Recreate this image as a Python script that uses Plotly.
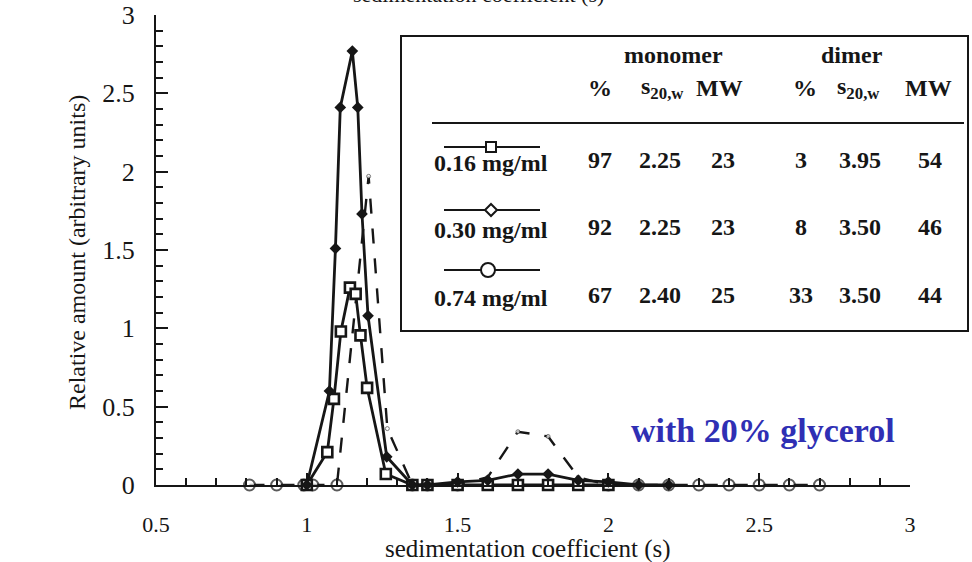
import plotly.graph_objects as go

# ---- sedimentation profiles (relative amount vs. s) ----
x_016 = [1.0, 1.068, 1.09, 1.113, 1.143, 1.162, 1.178, 1.2, 1.262, 1.35, 1.4, 1.5, 1.6, 1.7, 1.8, 1.9, 2.0]
y_016 = [0.0, 0.21, 0.55, 0.98, 1.26, 1.22, 0.955, 0.62, 0.07, 0.0, 0.0, 0.0, 0.0, 0.0, 0.0, 0.0, 0.0]

x_030 = [1.0, 1.075, 1.095, 1.111, 1.151, 1.169, 1.183, 1.203, 1.265, 1.35, 1.4, 1.5, 1.6, 1.7, 1.8, 1.9, 2.0, 2.1, 2.2]
y_030 = [0.0, 0.6, 1.51, 2.41, 2.77, 2.41, 1.73, 1.08, 0.18, 0.0, 0.0, 0.02, 0.03, 0.07, 0.07, 0.03, 0.02, 0.0, 0.0]

x_074 = [0.81, 0.9, 0.99, 1.02, 1.1, 1.205, 1.267, 1.35, 1.4, 1.5, 1.6, 1.7, 1.8, 1.9, 2.0, 2.1, 2.2, 2.3, 2.4, 2.5, 2.6, 2.7]
y_074 = [0.0, 0.0, 0.0, 0.0, 0.0, 1.97, 0.36, 0.0, 0.0, 0.0, 0.05, 0.34, 0.31, 0.05, 0.0, 0.0, 0.0, 0.0, 0.0, 0.0, 0.0, 0.0]

# ---- table of fitted species ----
conc_labels = ["0.16 mg/ml", "0.30 mg/ml", "0.74 mg/ml"]
mono_pct = ["97", "92", "67"]
mono_s = ["2.25", "2.25", "2.40"]
mono_mw = ["23", "23", "25"]
dimer_pct = ["3", "8", "33"]
dimer_s = ["3.95", "3.50", "3.50"]
dimer_mw = ["54", "46", "44"]

x_ticks = [0.5, 1, 1.5, 2, 2.5, 3]
x_tick_text = ["0.5", "1", "1.5", "2", "2.5", "3"]
y_ticks = [0, 0.5, 1, 1.5, 2, 2.5, 3]
y_tick_text = ["0", "0.5", "1", "1.5", "2", "2.5", "3"]

W, H = 972, 562
ML, MR, MT, MB = 156, 62, 15, 77
PW, PH = W - ML - MR, H - MT - MB


def px(x):
    return (x - ML) / PW


def py(y):
    return (H - MB - y) / PH


SERIF = "Liberation Serif"
INK = "#161616"

fig = go.Figure()

fig.add_trace(go.Scatter(
    x=x_074, y=y_074, mode="lines+markers", name="0.74 mg/ml",
    line=dict(color=INK, width=2.4, dash="longdash"),
    marker=dict(symbol="circle", color="white",
                size=[11 if v == 0 else 4 for v in y_074],
                line=dict(width=[2 if v == 0 else 0.8 for v in y_074], color=INK)),
    cliponaxis=False,
))
fig.add_trace(go.Scatter(
    x=x_016, y=y_016, mode="lines+markers", name="0.16 mg/ml",
    line=dict(color=INK, width=2.8),
    marker=dict(symbol="square", size=10, color="white", line=dict(width=2.6, color=INK)),
    cliponaxis=False,
))
fig.add_trace(go.Scatter(
    x=x_030, y=y_030, mode="lines+markers", name="0.30 mg/ml",
    line=dict(color=INK, width=2.8),
    marker=dict(symbol="diamond", size=9, color=INK),
    cliponaxis=False,
))

shapes = []
ann = []

# legend / table frame
shapes.append(dict(type="rect", xref="paper", yref="paper",
                   x0=px(401), x1=px(968), y0=py(331), y1=py(36),
                   line=dict(color=INK, width=2), fillcolor="white", layer="below"))
shapes.append(dict(type="line", xref="paper", yref="paper",
                   x0=px(432), x1=px(964), y0=py(123), y1=py(123),
                   line=dict(color=INK, width=1.8)))


def text(x, y, s, size=24, bold=True, color=INK, angle=0):
    ann.append(dict(x=px(x), y=py(y), xref="paper", yref="paper",
                    text=f"<b>{s}</b>" if bold else s,
                    showarrow=False, font=dict(family=SERIF, size=size, color=color),
                    xanchor="center", yanchor="middle", textangle=angle))


text(673, 55, "monomer")
text(852, 55, "dimer")
head_x = [600, 662, 719, 805, 858, 928]
for cx, head in zip(head_x, ["%", "s<sub>20,w</sub>", "MW", "%", "s<sub>20,w</sub>", "MW"]):
    text(cx, 88, head)

col_x = [600, 660, 723, 801, 860, 930]
row_y = [160, 227, 295]
sample_y = [147, 210, 270]
symbols = ["square", "diamond", "circle"]
for i, lab in enumerate(conc_labels):
    text(491, row_y[i] + 3, lab)
    for cx, val in zip(col_x, [mono_pct[i], mono_s[i], mono_mw[i], dimer_pct[i], dimer_s[i], dimer_mw[i]]):
        text(cx, row_y[i], val)
    sy = py(sample_y[i])
    shapes.append(dict(type="line", xref="paper", yref="paper",
                       x0=px(444), x1=px(540), y0=sy, y1=sy, line=dict(color=INK, width=1.8)))
    mx = px(491)
    if symbols[i] == "square":
        shapes.append(dict(type="rect", xref="paper", yref="paper", xsizemode="pixel", ysizemode="pixel",
                           xanchor=mx, yanchor=sy, x0=-5, x1=5, y0=-5, y1=5,
                           line=dict(color=INK, width=2), fillcolor="white"))
    elif symbols[i] == "diamond":
        shapes.append(dict(type="path", xref="paper", yref="paper", xsizemode="pixel", ysizemode="pixel",
                           xanchor=mx, yanchor=sy, path="M0,6 L6,0 L0,-6 L-6,0 Z",
                           line=dict(color=INK, width=2), fillcolor="white"))
    else:
        shapes.append(dict(type="circle", xref="paper", yref="paper", xsizemode="pixel", ysizemode="pixel",
                           xanchor=px(488), yanchor=sy, x0=-7, x1=7, y0=-7, y1=7,
                           line=dict(color=INK, width=2), fillcolor="white"))

# condition label
text(763, 430, "with 20% glycerol", size=34, color="#2F2FB4")

# axis titles
text(528, 549, "sedimentation coefficient (s)", size=25, bold=False)
text(77, 253, "Relative amount (arbitrary units)", size=24, bold=False, angle=-90)
# top axis title, running off the upper edge
text(478, -6, "sedimentation coefficient (s)", size=22, bold=False)

fig.update_layout(
    width=W, height=H,
    margin=dict(l=ML, r=MR, t=MT, b=MB, autoexpand=False),
    paper_bgcolor="white", plot_bgcolor="white",
    showlegend=False,
    shapes=shapes, annotations=ann,
    font=dict(family=SERIF, color=INK),
)
fig.update_xaxes(
    range=[0.5, 3.0], showgrid=False, zeroline=False, automargin=False,
    showline=True, linecolor=INK, linewidth=2,
    tickvals=x_ticks, ticktext=x_tick_text, ticks="inside", ticklen=12, tickwidth=2, tickcolor=INK,
    minor=dict(ticks="inside", dtick=0.1, tick0=0.5, ticklen=7, tickwidth=1.8, tickcolor=INK),
    tickfont=dict(family=SERIF, size=22, color=INK), ticklabelstandoff=19,
)
fig.update_yaxes(
    range=[0, 3.0], showgrid=False, zeroline=False, automargin=False,
    showline=True, linecolor=INK, linewidth=2,
    tickvals=y_ticks, ticktext=y_tick_text, ticks="inside", ticklen=12, tickwidth=2, tickcolor=INK,
    minor=dict(ticks="inside", dtick=0.1, tick0=0, ticklen=7, tickwidth=1.8, tickcolor=INK),
    tickfont=dict(family=SERIF, size=26, color=INK), ticklabelstandoff=14,
)

fig.write_html("out.html")
